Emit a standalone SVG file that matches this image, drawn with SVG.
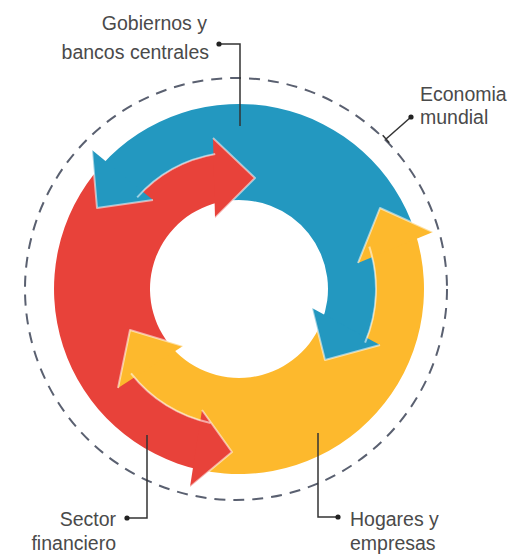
<svg xmlns="http://www.w3.org/2000/svg" width="509" height="557" viewBox="0 0 509 557">
  <style>
    .lbl { font-family: "Liberation Sans", Arial, sans-serif; font-size: 19.5px; fill: #4a4a4a; }
    .lead { fill: none; stroke: #333; stroke-width: 1.5; }
    .dot { fill: #222; }
    .red { fill: #E8423A; }
    .blue { fill: #2398C0; }
    .yellow { fill: #FDB92D; }
    .halo { fill: none; stroke: #ffffff; stroke-opacity: 0.55; stroke-width: 2; stroke-linejoin: round; }
  </style>
  <rect width="509" height="557" fill="#ffffff"/>

  <g id="economia-mundial">
    <circle cx="236" cy="289" r="211" fill="none" stroke="#5a6070" stroke-width="2" stroke-dasharray="11 8"/>
    <text class="lbl" x="420" y="101">Economia</text>
    <text class="lbl" x="420" y="124">mundial</text>
  </g>

  <g id="sector-financiero">
    <path class="red" d="M200.54,469.95 A185,185 0 0 1 101.53,165.22 L137.20,197.33 A137,137 0 0 1 215.22,154.08 L223.55,201.35 A89,89 0 0 0 168.87,343.80 L131.04,373.35 A137,137 0 0 0 210.52,423.00 Z"/>
  </g>

  <g id="gobiernos-bancos">
    <path class="blue" d="M101.53,165.22 A185,185 0 0 1 414.95,231.83 L369.30,246.67 A137,137 0 0 1 365.11,342.53 L320.92,323.77 A89,89 0 0 0 223.55,201.35 L215.22,154.08 A137,137 0 0 0 137.20,197.33 Z"/>
  </g>

  <g id="hogares-empresas">
    <path class="yellow" d="M414.95,231.83 A185,185 0 0 1 200.54,469.95 L210.52,423.00 A137,137 0 0 1 131.04,373.35 L168.87,343.80 A89,89 0 0 0 320.92,323.77 L365.11,342.53 A137,137 0 0 0 369.30,246.67 Z"/>
  </g>

  <g id="connectors">
    <!-- arrowheads of the flows -->
    <polygon class="red" points="213,138 255,178 215,218"/>
    <polygon class="red" points="202,410 232,452 190,487"/>
    <polygon class="blue" points="92,150 97,208 153,200"/>
    <polygon class="blue" points="312,308 325,360 380,345"/>
    <polygon class="yellow" points="433,232 380,208 358,263"/>
    <polygon class="yellow" points="183,346 130,330 118,388"/>
    <path class="halo" d="M137.20,197.33 A137,137 0 0 1 215.22,154.08"/>
    <path class="halo" d="M369.30,246.67 A137,137 0 0 1 365.11,342.53"/>
    <path class="halo" d="M210.52,423.00 A137,137 0 0 1 131.04,373.35"/>
    <polyline class="halo" points="213,138 255,178 215,218"/>
    <polyline class="halo" points="202,410 232,452 190,487"/>
    <polyline class="halo" points="92,150 97,208 153,200"/>
    <polyline class="halo" points="312,308 325,360 380,345"/>
    <polyline class="halo" points="433,232 380,208 358,263"/>
    <polyline class="halo" points="183,346 130,330 118,388"/>

    <!-- label leaders -->
    <polyline class="lead" points="219,44 240,44 240,126"/>
    <circle class="dot" cx="219" cy="44" r="2.6"/>
    <line class="lead" x1="411" y1="117" x2="386" y2="139"/>
    <line class="lead" x1="382.7" y1="135.3" x2="389.3" y2="142.8"/>
    <circle class="dot" cx="411" cy="117" r="2.6"/>
    <polyline class="lead" points="127,518 147,518 147,435"/>
    <circle class="dot" cx="127" cy="518" r="2.6"/>
    <polyline class="lead" points="318,433 318,517 338,517"/>
    <circle class="dot" cx="338" cy="517" r="2.6"/>
  </g>

  <g id="labels">
    <text class="lbl" x="207" y="30" text-anchor="end">Gobiernos y</text>
    <text class="lbl" x="209" y="59" text-anchor="end">bancos centrales</text>
    <text class="lbl" x="116" y="526" text-anchor="end">Sector</text>
    <text class="lbl" x="116" y="550" text-anchor="end">financiero</text>
    <text class="lbl" x="350" y="526">Hogares y</text>
    <text class="lbl" x="350" y="550">empresas</text>
  </g>
</svg>
